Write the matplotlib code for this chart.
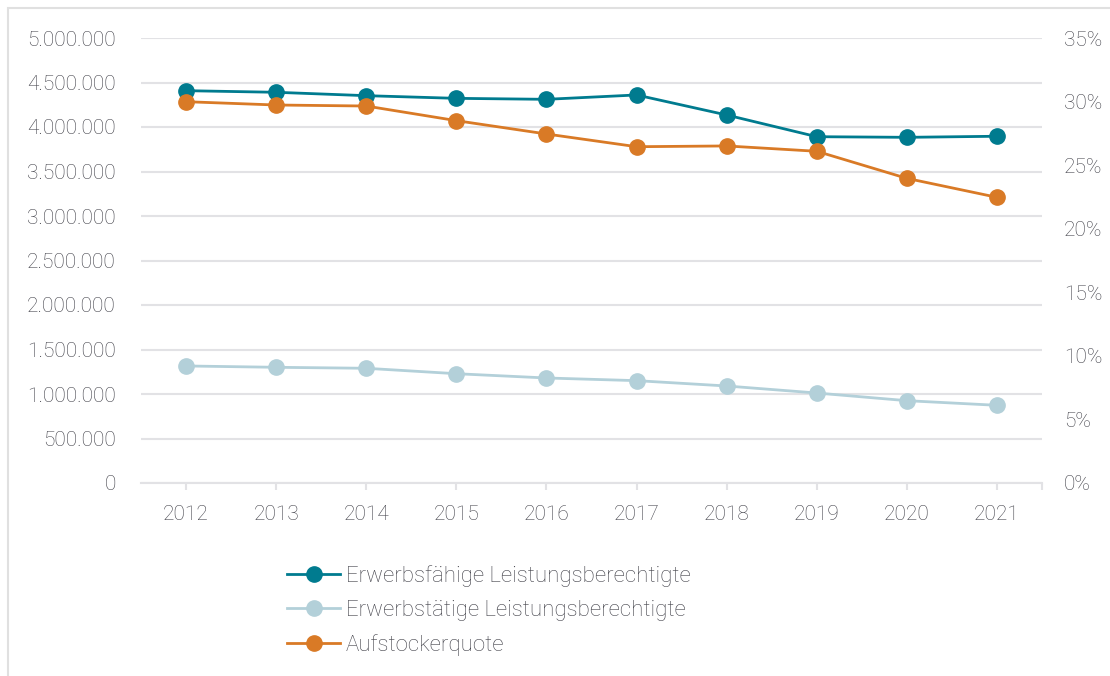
import matplotlib.pyplot as plt
from matplotlib.patches import Rectangle
from matplotlib.ticker import FuncFormatter, FixedLocator

plt.rcParams['font.family'] = ['Roboto', 'DejaVu Sans']
plt.rcParams['font.weight'] = 'light'

years = ["2012", "2013", "2014", "2015", "2016", "2017", "2018", "2019", "2020", "2021"]

# Erwerbsfähige Leistungsberechtigte (left axis)
erwerbsfaehige = [4408000, 4390000, 4352000, 4322000, 4311000,
                  4360000, 4135000, 3891000, 3884000, 3896000]
# Erwerbstätige Leistungsberechtigte (left axis)
erwerbstaetige = [1315000, 1300000, 1289000, 1228000, 1180000,
                  1150000, 1090000, 1011000, 925000, 873000]
# Aufstockerquote in % (right axis)
quote = [29.99, 29.73, 29.65, 28.50, 27.45, 26.45, 26.51, 26.09, 23.96, 22.47]

labels = ["Erwerbsfähige Leistungsberechtigte",
          "Erwerbstätige Leistungsberechtigte",
          "Aufstockerquote"]

c_teal = "#007b8f"
c_light = "#b3d0d9"
c_orange = "#d97a26"
c_grid = "#e2e2e5"
c_text = "#414149"

fig = plt.figure(figsize=(11.1, 6.76), dpi=100)
ax = fig.add_axes([141 / 1110, 1 - 483 / 676, (1042 - 141) / 1110, (483 - 38) / 676])
ax2 = ax.twinx()

x = range(len(years))
l1, = ax.plot(x, erwerbsfaehige, color=c_teal, lw=2.0, marker="o", ms=11, zorder=3)
l2, = ax.plot(x, erwerbstaetige, color=c_light, lw=2.0, marker="o", ms=11, zorder=3)
l3, = ax2.plot(x, quote, color=c_orange, lw=2.0, marker="o", ms=11, zorder=3)

ax.set_xlim(-0.5, len(years) - 0.5)
ax.set_ylim(0, 5000000)
ax2.set_ylim(0, 35)
ax.set_yticks(range(0, 5000001, 500000))
ax2.set_yticks(range(0, 36, 5))
ax.yaxis.set_major_formatter(FuncFormatter(lambda v, p: f"{int(v):,}".replace(",", ".")))
ax2.yaxis.set_major_formatter(FuncFormatter(lambda v, p: f"{int(v)}%"))
ax.set_xticks(list(x))
ax.set_xticklabels(years)
ax.xaxis.set_minor_locator(FixedLocator([len(years) - 0.5]))

ax.grid(axis="y", color=c_grid, lw=1.5, zorder=0)
ax.set_axisbelow(True)
for a in (ax, ax2):
    for s in a.spines.values():
        s.set_visible(False)
ax.spines["bottom"].set_visible(True)
ax.spines["bottom"].set_color(c_grid)
ax.spines["bottom"].set_linewidth(1.5)

ax.tick_params(axis="y", length=0, pad=18, labelsize=15, labelcolor=c_text)
ax2.tick_params(axis="y", length=0, pad=16, labelsize=15, labelcolor=c_text)
ax.tick_params(axis="x", which="both", length=5, width=1.5, color=c_grid, pad=11,
               labelsize=15, labelcolor=c_text)

fig.legend([l1, l2, l3], labels, loc="upper left", bbox_to_anchor=(267 / 1110, 1 - 545 / 676),
           frameon=False, fontsize=16, handlelength=2.4, handletextpad=0.25,
           labelspacing=0.6, labelcolor=c_text)

fig.patches.append(Rectangle((8 / 1110, -0.1), 1.2, 1 - 8 / 676 + 0.1, transform=fig.transFigure,
                             fill=False, edgecolor="#e0e0e0", lw=1.5, zorder=-1))

fig.savefig("out.png", dpi=100)
